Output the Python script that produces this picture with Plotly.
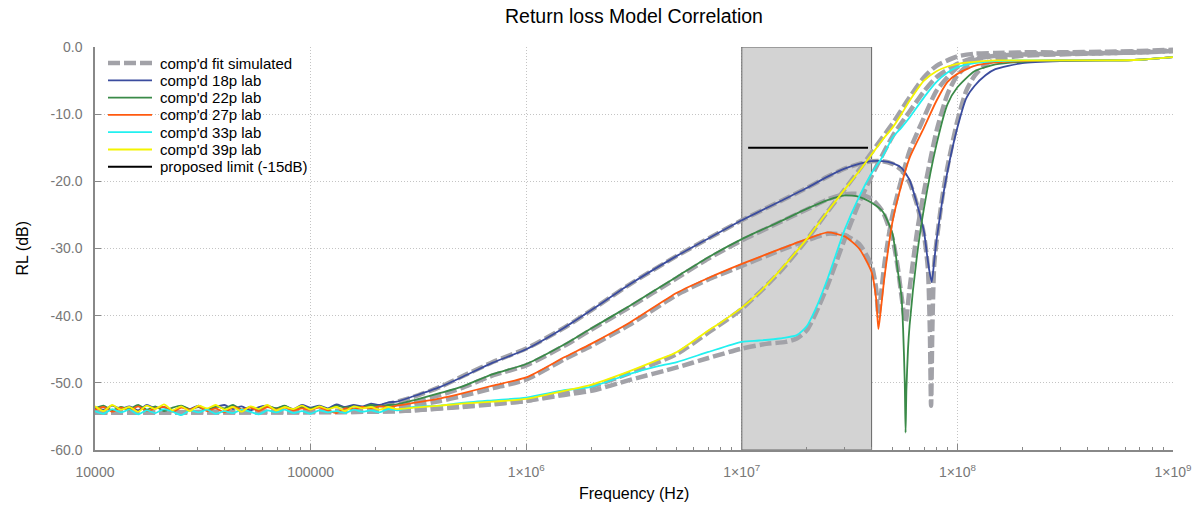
import plotly.graph_objects as go

# ---------------- data ----------------
# shared low-frequency grid of the lab measurements (Hz)
F_LOW = [10000, 10960, 12020, 13180, 14450, 15850, 17380, 19050, 20890, 22910,
         25120, 27540, 30200, 33110, 36310, 39810, 43650, 47860, 52480, 57540,
         63100, 69180, 75860, 83180, 91200, 100000, 109600, 120200, 131800, 144500,
         158500, 173800, 190500, 208900, 229100, 251200]

LAB18_LOW = [-53.6, -54.0, -53.4, -53.9, -53.5, -54.1, -53.3, -53.8, -53.6, -54.2,
             -53.5, -53.9, -53.4, -54.0, -53.6, -53.3, -53.9, -53.5, -54.1, -53.6,
             -53.4, -53.8, -53.5, -53.9, -53.3, -53.7, -53.4, -53.8, -53.2, -53.6,
             -53.3, -53.5, -53.1, -53.3, -52.9, -52.8]
LAB22_LOW = [-53.8, -53.4, -54.1, -53.6, -53.9, -53.3, -54.0, -53.5, -54.2, -53.7,
             -53.4, -53.9, -53.6, -54.1, -53.5, -53.8, -53.3, -54.0, -53.6, -53.9,
             -53.5, -53.8, -53.4, -54.0, -53.6, -53.8, -53.5, -53.9, -53.4, -53.7,
             -53.5, -53.6, -53.3, -53.5, -53.3, -53.2]
LAB27_LOW = [-54.0, -53.6, -54.3, -53.7, -54.1, -53.5, -54.2, -53.8, -53.6, -54.3,
             -53.7, -54.0, -53.5, -54.2, -53.8, -54.4, -53.6, -54.0, -53.7, -54.2,
             -53.6, -54.0, -53.7, -54.1, -53.8, -54.0, -53.7, -54.1, -54.5, -53.8,
             -53.9, -53.6, -53.8, -53.5, -53.6, -53.4]
LAB33_LOW = [-54.2, -54.6, -53.9, -54.4, -54.0, -54.7, -54.1, -54.5, -53.9, -54.3,
             -54.8, -54.1, -54.4, -54.0, -54.6, -54.2, -54.5, -54.0, -54.3, -54.7,
             -54.1, -54.4, -54.0, -54.5, -54.2, -54.6, -54.1, -54.4, -54.2, -54.5,
             -54.0, -54.3, -54.1, -54.4, -53.9, -54.1]
LAB39_LOW = [-53.5, -54.2, -53.3, -54.0, -53.6, -54.3, -53.4, -53.9, -53.2, -54.1,
             -53.5, -54.2, -53.4, -53.8, -53.3, -54.0, -53.6, -54.3, -53.5, -53.9,
             -53.3, -54.1, -53.6, -53.9, -53.4, -54.0, -53.5, -53.9, -53.6, -54.2,
             -53.5, -53.8, -53.6, -54.0, -53.6, -53.9]

# lab curves above 250 kHz
LAB18_F = [3e5, 4e5, 5e5, 7e5, 1e6, 1.5e6, 2e6, 3e6, 5e6, 7e6, 1e7, 1.5e7, 2e7, 2.5e7,
           3e7, 3.5e7, 4e7, 4.5e7, 5e7, 5.5e7, 6e7, 6.5e7, 7e7, 7.2e7, 7.4e7, 7.6e7,
           7.8e7, 8e7, 8.5e7, 9e7, 1e8, 1.1e8, 1.2e8, 1.35e8, 1.5e8, 2e8, 3e8, 5e8,
           7e8, 8.5e8, 1e9]
LAB18_RL = [-52.0, -50.6, -49.2, -47.0, -45.0, -41.8, -39.2, -35.4, -31.1, -28.5, -25.8,
            -23.0, -21.0, -19.3, -18.1, -17.4, -17.0, -17.0, -17.3, -18.0, -19.8, -23.4,
            -27.5, -30.5, -33.2, -35.0, -32.0, -28.8, -23.0, -18.5, -12.0, -7.6, -5.8,
            -4.2, -3.3, -2.4, -2.1, -2.0, -1.9, -1.7, -1.5]

LAB22_F = [3e5, 4e5, 5e5, 7e5, 1e6, 1.5e6, 2e6, 3e6, 5e6, 7e6, 1e7, 1.5e7, 2e7, 2.5e7,
           3e7, 3.5e7, 4e7, 4.5e7, 5e7, 5.3e7, 5.5e7, 5.6e7, 5.7e7, 5.75e7, 5.8e7,
           5.9e7, 6e7, 6.5e7, 7e7, 8e7, 9e7, 1e8, 1.2e8, 1.5e8, 2e8, 3e8, 5e8, 7e8,
           8.5e8, 1e9]
LAB22_RL = [-52.6, -51.5, -50.6, -48.7, -47.2, -44.3, -41.9, -38.6, -34.2, -31.3, -28.6,
            -26.0, -24.1, -22.8, -22.1, -22.3, -23.2, -24.5, -27.8, -33.5, -37.0, -42.0,
            -50.0, -57.4, -51.0, -45.0, -41.5, -31.0, -24.0, -14.5, -8.5, -6.0, -3.6,
            -2.6, -2.2, -2.0, -2.0, -1.9, -1.7, -1.5]

LAB27_F = [3e5, 4e5, 5e5, 7e5, 1e6, 1.5e6, 2e6, 3e6, 5e6, 7e6, 1e7, 1.5e7, 2e7, 2.5e7,
           3e7, 3.5e7, 4e7, 4.2e7, 4.3e7, 4.4e7, 4.6e7, 5e7, 5.5e7, 6e7, 7e7, 8e7, 9e7,
           1e8, 1.2e8, 1.5e8, 2e8, 3e8, 5e8, 7e8, 8.5e8, 1e9]
LAB27_RL = [-53.0, -52.3, -51.6, -50.4, -49.2, -46.2, -44.2, -41.1, -36.6, -34.4, -32.3,
            -30.1, -28.6, -27.6, -28.2, -30.0, -33.5, -37.5, -42.0, -39.5, -34.0, -26.0,
            -20.5, -16.5, -12.0, -8.0, -5.2, -4.0, -2.8, -2.3, -2.1, -2.0, -2.0, -1.9,
            -1.7, -1.5]

LAB33_F = [3e5, 4e5, 5e5, 7e5, 1e6, 1.5e6, 2e6, 3e6, 4e6, 5e6, 7e6, 1e7, 1.2e7, 1.5e7,
           1.8e7, 2e7, 2.2e7, 2.5e7, 3e7, 3.5e7, 4e7, 4.5e7, 5e7, 5.5e7, 6e7, 7e7, 8e7,
           9e7, 1e8, 1.2e8, 1.5e8, 2e8, 3e8, 5e8, 7e8, 8.5e8, 1e9]
LAB33_RL = [-53.6, -53.4, -53.0, -52.6, -52.2, -51.1, -50.6, -48.7, -47.6, -46.9, -45.4,
            -43.9, -43.7, -43.4, -42.9, -41.6, -39.0, -34.5, -27.2, -22.3, -18.8, -16.3,
            -13.5, -12.0, -10.5, -7.5, -5.2, -3.8, -3.0, -2.4, -2.1, -2.0, -2.0, -2.0,
            -1.9, -1.7, -1.5]

LAB39_F = [3e5, 4e5, 5e5, 7e5, 1e6, 1.5e6, 2e6, 3e6, 4e6, 5e6, 7e6, 8e6, 1e7, 1.2e7,
           1.5e7, 2e7, 2.5e7, 3e7, 3.5e7, 4e7, 4.5e7, 5e7, 5.5e7, 6e7, 7e7, 8e7, 9e7,
           1e8, 1.2e8, 1.5e8, 2e8, 3e8, 5e8, 7e8, 8.5e8, 1e9]
LAB39_RL = [-53.7, -53.4, -53.1, -52.8, -52.4, -51.2, -50.3, -48.3, -46.7, -45.4, -42.2,
            -41.0, -38.8, -36.6, -33.3, -28.6, -24.5, -21.2, -18.5, -16.0, -13.8, -12.0,
            -10.0, -8.0, -5.0, -3.6, -2.9, -2.5, -2.2, -2.0, -2.0, -2.0, -2.0, -1.9,
            -1.7, -1.5]

# simulated (fitted) curves
SIM18_F = [1e4, 1.5e5, 2e5, 3e5, 4e5, 5e5, 7e5, 1e6, 1.5e6, 2e6, 3e6, 5e6, 7e6, 1e7,
           1.5e7, 2e7, 2.5e7, 3e7, 3.5e7, 4e7, 4.5e7, 5e7, 5.5e7, 6e7, 6.5e7, 7e7,
           7.3e7, 7.45e7, 7.55e7, 7.65e7, 7.8e7, 8e7, 8.5e7, 9e7, 1e8, 1.1e8, 1.2e8,
           1.35e8, 1.5e8, 2e8, 3e8, 5e8, 7e8, 1e9]
SIM18_RL = [-54.4, -54.1, -53.6, -52.1, -50.6, -49.1, -46.9, -44.9, -41.8, -39.2, -35.4,
            -31.1, -28.5, -25.8, -23.0, -21.0, -19.3, -18.1, -17.4, -17.0, -17.0, -17.4,
            -18.3, -20.2, -23.5, -28.0, -33.0, -42.0, -53.4, -42.0, -32.5, -29.0, -22.5,
            -17.8, -11.0, -6.5, -4.3, -2.6, -1.9, -1.3, -1.1, -0.9, -0.8, -0.5]

SIM22_F = [1e4, 1.5e5, 2e5, 3e5, 4e5, 5e5, 7e5, 1e6, 1.5e6, 2e6, 3e6, 5e6, 7e6, 1e7,
           1.5e7, 2e7, 2.5e7, 3e7, 3.5e7, 4e7, 4.5e7, 5e7, 5.3e7, 5.5e7, 5.75e7, 6e7,
           6.5e7, 7e7, 8e7, 9e7, 1e8, 1.2e8, 1.5e8, 2e8, 3e8, 5e8, 7e8, 1e9]
SIM22_RL = [-54.4, -54.2, -54.0, -52.9, -51.8, -50.8, -48.9, -47.4, -44.5, -42.1, -38.8,
            -34.4, -31.5, -28.8, -26.1, -24.2, -22.7, -21.9, -21.9, -22.6, -24.5, -28.5,
            -33.0, -37.0, -41.0, -36.0, -27.5, -21.5, -12.5, -7.0, -4.2, -2.0, -1.3,
            -1.1, -1.0, -0.9, -0.8, -0.6]

SIM27_F = [1e4, 1.5e5, 2e5, 3e5, 4e5, 5e5, 7e5, 1e6, 1.5e6, 2e6, 3e6, 5e6, 7e6, 1e7,
           1.5e7, 2e7, 2.5e7, 3e7, 3.5e7, 4e7, 4.2e7, 4.3e7, 4.4e7, 4.6e7, 5e7, 6e7,
           7e7, 8e7, 1e8, 1.2e8, 1.5e8, 2e8, 3e8, 5e8, 7e8, 1e9]
SIM27_RL = [-54.4, -54.3, -54.1, -53.4, -52.7, -52.0, -50.8, -49.5, -46.5, -44.5, -41.4,
            -36.9, -34.6, -32.6, -30.3, -28.8, -27.8, -28.0, -29.3, -32.5, -36.0, -40.0,
            -37.5, -32.0, -25.0, -15.5, -10.5, -6.5, -3.0, -1.8, -1.3, -1.1, -1.0, -0.9,
            -0.8, -0.6]

SIM33_F = [1e4, 2e5, 3e5, 5e5, 7e5, 1e6, 1.5e6, 2e6, 3e6, 5e6, 7e6, 1e7, 1.3e7, 1.6e7,
           1.8e7, 2e7, 2.2e7, 2.5e7, 3e7, 3.5e7, 4e7, 5e7, 6e7, 7e7, 8e7, 1e8, 1.2e8,
           1.5e8, 2e8, 3e8, 5e8, 7e8, 1e9]
SIM33_RL = [-54.4, -54.3, -54.1, -53.6, -53.2, -52.7, -51.8, -51.2, -49.6, -47.7, -46.3,
            -44.9, -44.2, -43.9, -43.4, -42.2, -39.7, -35.5, -28.6, -23.2, -19.2, -13.3,
            -9.6, -6.6, -4.5, -2.5, -1.6, -1.2, -1.0, -0.9, -0.8, -0.7, -0.5]

SIM39_F = [1e4, 2e5, 3e5, 5e5, 7e5, 1e6, 1.5e6, 2e6, 3e6, 5e6, 7e6, 1e7, 1.5e7, 2e7,
           2.5e7, 3e7, 3.5e7, 4e7, 5e7, 6e7, 7e7, 8e7, 1e8, 1.2e8, 1.5e8, 2e8, 3e8, 5e8,
           7e8, 1e9]
SIM39_RL = [-54.4, -54.3, -54.1, -53.5, -53.1, -52.7, -51.5, -50.6, -48.6, -45.7, -42.5,
            -39.0, -33.5, -28.7, -24.5, -21.2, -18.3, -15.7, -11.4, -7.5, -4.5, -2.8,
            -1.4, -1.0, -0.9, -0.8, -0.8, -0.7, -0.6, -0.4]

# proposed limit and shaded band
LIMIT_F = [1.07e7, 3.85e7]
LIMIT_RL = [-15.0, -15.0]
BAND_F = [1e7, 4e7, 4e7, 1e7, 1e7]
BAND_RL = [-60.0, -60.0, 0.0, 0.0, -60.0]

X_TICKS = [1e4, 1e5, 1e6, 1e7, 1e8, 1e9]
X_TICKTEXT = ["10000", "100000", "1×10<sup>6</sup>", "1×10<sup>7</sup>",
              "1×10<sup>8</sup>", "1×10<sup>9</sup>"]
Y_TICKS = [-60, -50, -40, -30, -20, -10, 0]
Y_TICKTEXT = ["-60.0", "-50.0", "-40.0", "-30.0", "-20.0", "-10.0", "0.0"]
MINOR_TICKS = [m * 10 ** e for e in range(4, 9) for m in range(2, 10)]

SIM_NAME = "comp'd fit simulated"
SIM_COLOR = "#a2a2a8"
LAB_NAMES = ["comp'd 18p lab", "comp'd 22p lab", "comp'd 27p lab",
             "comp'd 33p lab", "comp'd 39p lab"]
LAB_COLORS = ["#3b4c9e", "#3a8a48", "#ff5a0f", "#22f0f0", "#f4f400"]
LIMIT_NAME = "proposed limit (-15dB)"

# ---------------- layout geometry (pixels) ----------------
W, H = 1197, 505
ML, MR, MT, MB = 95, 24, 47, 55
PW, PH = W - ML - MR, H - MT - MB
FONT = "Liberation Sans, Arial, sans-serif"
SIM_DASH = "12px,4px"

# ---------------- figure ----------------
fig = go.Figure()

fig.add_trace(go.Scatter(x=BAND_F, y=BAND_RL, mode="lines", fill="toself",
                         fillcolor="#d3d3d3", line=dict(color="#666666", width=1),
                         showlegend=False, hoverinfo="skip"))

sims = [(SIM18_F, SIM18_RL), (SIM22_F, SIM22_RL), (SIM27_F, SIM27_RL),
        (SIM33_F, SIM33_RL), (SIM39_F, SIM39_RL)]
for f, rl in sims:
    fig.add_trace(go.Scatter(x=f, y=rl, mode="lines", name=SIM_NAME, showlegend=False,
                             line=dict(color=SIM_COLOR, width=4.5, dash=SIM_DASH,
                                       shape="spline", smoothing=0.6)))

labs = [(LAB18_LOW, LAB18_F, LAB18_RL), (LAB22_LOW, LAB22_F, LAB22_RL),
        (LAB27_LOW, LAB27_F, LAB27_RL), (LAB33_LOW, LAB33_F, LAB33_RL),
        (LAB39_LOW, LAB39_F, LAB39_RL)]
for (low, f, rl), name, col in zip(labs, LAB_NAMES, LAB_COLORS):
    fig.add_trace(go.Scatter(x=F_LOW + f, y=low + rl, mode="lines", name=name,
                             showlegend=False,
                             line=dict(color=col, width=1.8, shape="spline",
                                       smoothing=0.6)))

fig.add_trace(go.Scatter(x=LIMIT_F, y=LIMIT_RL, mode="lines", name=LIMIT_NAME,
                         showlegend=False, line=dict(color="black", width=2)))

# compact legend (rows 17.3 px apart, like the reference)
legend_items = ([(SIM_NAME, SIM_COLOR, 4.5, SIM_DASH)] +
                [(n, c, 1.8, "solid") for n, c in zip(LAB_NAMES, LAB_COLORS)] +
                [(LIMIT_NAME, "black", 2, "solid")])
shapes, annotations = [], []
LEG_X0, LEG_X1, LEG_TX, LEG_Y0, LEG_DY = 108, 152, 158, 63, 17.3
for i, (name, col, wid, dash) in enumerate(legend_items):
    py = LEG_Y0 + i * LEG_DY
    yp = (H - MB - py) / PH
    shapes.append(dict(type="line", xref="paper", yref="paper",
                       x0=(LEG_X0 - ML) / PW, x1=(LEG_X1 - ML) / PW, y0=yp, y1=yp,
                       line=dict(color=col, width=wid, dash=dash)))
    annotations.append(dict(text=name, xref="paper", yref="paper",
                            x=(LEG_TX - ML) / PW, y=yp, xanchor="left",
                            yanchor="middle", showarrow=False,
                            font=dict(size=15, color="black", family=FONT)))

# axis titles placed like the reference
annotations.append(dict(text="Frequency (Hz)", xref="paper", yref="paper",
                        x=0.5, y=(H - MB - 493) / PH, xanchor="center",
                        yanchor="middle", showarrow=False,
                        font=dict(size=16, color="black", family=FONT)))
annotations.append(dict(text="RL (dB)", xref="paper", yref="paper",
                        x=(22 - ML) / PW, y=0.5, xanchor="center", yanchor="middle",
                        textangle=-90, showarrow=False,
                        font=dict(size=16, color="black", family=FONT)))

fig.update_layout(
    width=W, height=H,
    margin=dict(l=ML, r=MR, t=MT, b=MB, autoexpand=False),
    paper_bgcolor="white", plot_bgcolor="white",
    font=dict(family=FONT, size=14, color="black"),
    title=dict(text="Return loss Model Correlation", x=0.5, xref="paper",
               xanchor="center", y=1 - 16 / H, yanchor="middle",
               font=dict(size=19.5, color="black")),
    showlegend=False,
    shapes=shapes, annotations=annotations,
)
fig.update_xaxes(
    type="log", range=[4, 9], tickvals=X_TICKS, ticktext=X_TICKTEXT,
    ticks="inside", ticklen=6, tickcolor="#888888", ticklabelstandoff=8,
    showline=True, linecolor="#888888", linewidth=1.5, automargin=False,
    showgrid=True, gridcolor="#c4c4c4", griddash="1px,2px", gridwidth=1,
    zeroline=False, tickfont=dict(size=14, color="#777777"),
    minor=dict(tickvals=MINOR_TICKS, ticks="inside", ticklen=3, tickcolor="#888888",
               showgrid=False),
)
fig.update_yaxes(
    range=[-60, 0], tickvals=Y_TICKS, ticktext=Y_TICKTEXT,
    ticks="inside", ticklen=6, tickcolor="#888888", ticklabelstandoff=8,
    showline=True, linecolor="#888888", linewidth=1.5, automargin=False,
    showgrid=True, gridcolor="#c4c4c4", griddash="1px,2px", gridwidth=1,
    zeroline=False, tickfont=dict(size=14, color="#777777"),
)

fig.write_html("out.html")
